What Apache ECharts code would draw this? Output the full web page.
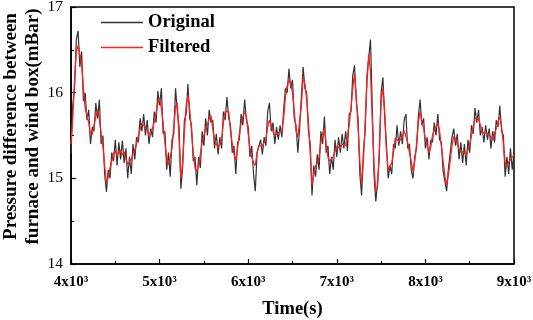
<!DOCTYPE html>
<html>
<head>
<meta charset="utf-8">
<script src="https://cdn.jsdelivr.net/npm/echarts@6/dist/echarts.min.js"></script>
<style>html,body{margin:0;padding:0;background:#fff}#c{width:533px;height:320px}</style>
</head>
<body>
<div id="c"></div>
<script>
// Time axis: samples every 20 s from 4000 s to 9000 s
const startTime = 4000;
const sampleStep = 20;
const xTicks = [4000, 5000, 6000, 7000, 8000, 9000];
const xTickLabels = ['4x10³', '5x10³', '6x10³', '7x10³', '8x10³', '9x10³'];
const yTickLabels = ['14', '15', '16', '17'];
const seriesNames = ['Original', 'Filtered'];

const original = [
  15.30,15.85,16.05,16.62,16.72,16.30,16.48,15.90,16.00,15.68,
  15.80,15.40,15.60,15.55,15.88,15.70,15.92,15.40,15.50,15.05,
  14.84,15.10,15.00,15.30,15.20,15.45,15.15,15.42,15.22,15.44,
  15.18,15.35,15.00,15.25,15.05,15.40,15.22,15.48,15.42,15.70,
  15.55,15.75,15.50,15.68,15.40,15.58,15.48,15.78,15.65,16.02,
  15.85,16.05,15.52,15.55,15.10,15.30,15.02,15.45,15.52,16.05,
  15.78,15.60,14.88,15.12,15.68,15.75,16.10,15.70,15.62,15.20,
  15.25,14.92,15.25,15.12,15.55,15.38,15.70,15.50,15.80,15.65,
  15.68,15.35,15.52,15.28,15.48,15.35,15.78,15.68,15.95,15.70,
  15.62,15.30,15.38,15.05,15.42,15.45,15.75,15.62,15.92,15.68,
  15.60,15.25,15.38,15.05,14.85,15.30,15.30,15.45,15.28,15.48,
  15.38,15.78,15.88,15.55,15.65,15.40,15.60,15.45,15.62,15.48,
  15.80,16.05,16.00,16.28,16.05,16.15,15.70,15.62,15.30,15.58,
  15.95,16.30,16.05,16.00,15.55,15.40,14.80,15.15,15.02,15.28,
  15.10,15.55,15.40,15.72,15.30,15.38,15.05,15.25,15.10,15.45,
  15.25,15.48,15.30,15.52,15.35,15.55,15.32,15.75,15.78,16.20,
  16.32,15.90,15.70,15.05,14.80,15.30,15.55,16.20,16.40,16.62,
  15.85,15.05,14.73,14.95,15.25,16.00,16.18,15.72,15.40,15.00,
  15.15,15.05,15.40,15.35,15.62,15.38,15.55,15.40,15.68,15.75,
  15.35,15.40,15.10,15.00,15.25,15.35,15.72,15.92,15.62,15.70,
  15.35,15.48,15.22,15.45,15.42,15.65,15.50,15.75,15.45,15.42,
  15.08,15.10,14.85,15.12,15.10,15.48,15.58,15.38,15.52,15.22,
  15.42,15.18,15.40,15.15,15.45,15.30,15.62,15.52,15.82,15.65,
  15.80,15.50,15.60,15.42,15.62,15.45,15.58,15.35,15.55,15.42,
  15.68,15.60,15.85,15.55,15.50,15.02,15.25,15.05,15.35,15.10,
  15.30
];

const filtered = [
  15.40,15.70,16.15,16.48,16.55,16.45,16.34,16.05,15.82,15.80,
  15.65,15.49,15.52,15.62,15.72,15.80,15.70,15.52,15.38,15.15,
  14.94,15.02,15.12,15.20,15.29,15.32,15.26,15.30,15.33,15.27,
  15.31,15.23,15.16,15.14,15.22,15.29,15.33,15.40,15.50,15.57,
  15.64,15.66,15.60,15.57,15.50,15.48,15.58,15.66,15.76,15.88,
  15.93,15.82,15.64,15.42,15.22,15.16,15.16,15.35,15.60,15.84,
  15.88,15.45,15.00,15.18,15.55,15.85,15.97,15.80,15.55,15.30,
  15.12,15.08,15.16,15.28,15.42,15.50,15.58,15.62,15.70,15.73,
  15.58,15.45,15.40,15.36,15.40,15.45,15.66,15.78,15.80,15.78,
  15.56,15.40,15.28,15.21,15.35,15.52,15.64,15.72,15.78,15.72,
  15.52,15.35,15.25,15.18,15.15,15.30,15.38,15.36,15.38,15.40,
  15.46,15.60,15.68,15.62,15.55,15.50,15.49,15.53,15.52,15.55,
  15.70,15.95,16.08,16.15,16.10,16.00,15.78,15.55,15.48,15.47,
  15.85,16.19,16.10,15.92,15.65,15.30,14.92,15.05,15.14,15.18,
  15.25,15.42,15.52,15.58,15.40,15.25,15.20,15.18,15.25,15.32,
  15.37,15.38,15.36,15.40,15.40,15.38,15.40,15.62,15.82,16.05,
  16.22,15.95,15.60,15.20,14.93,15.20,15.65,16.10,16.45,16.25,
  15.70,15.15,14.85,14.90,15.35,15.90,16.05,15.80,15.32,15.10,
  15.08,15.18,15.30,15.47,15.47,15.43,15.45,15.48,15.56,15.58,
  15.42,15.30,15.20,15.08,15.20,15.40,15.65,15.78,15.66,15.58,
  15.45,15.38,15.30,15.36,15.50,15.56,15.60,15.64,15.55,15.38,
  15.20,15.02,14.92,15.05,15.20,15.38,15.49,15.46,15.40,15.34,
  15.31,15.33,15.30,15.27,15.33,15.40,15.50,15.60,15.70,15.72,
  15.70,15.62,15.53,15.52,15.53,15.52,15.52,15.48,15.45,15.52,
  15.58,15.66,15.72,15.60,15.40,15.18,15.14,15.19,15.22,15.25,
  15.27
];

const sampleTimes = original.map((_, i) => startTime + sampleStep * i);
const pair = (vals) => vals.map((v, i) => [sampleTimes[i], v]);

const serif = '"Liberation Serif", "Times New Roman", serif';
const chart = echarts.init(document.getElementById('c'), null, {renderer: 'canvas'});
chart.setOption({
  animation: false,
  backgroundColor: '#fff',
  grid: {left: 71, right: 19, top: 7, bottom: 56, containLabel: false, outerBoundsMode: 'none',
         show: true, borderColor: '#000', borderWidth: 1.5},
  legend: {
    orient: 'vertical', left: 101, top: 13, padding: 0, itemWidth: 42, itemHeight: 1.6, itemGap: 6,
    icon: 'rect',
    data: seriesNames,
    textStyle: {fontFamily: serif, fontWeight: 'bold', fontSize: 18.5, lineHeight: 18, color: '#000', padding: [0, 0, 0, 0]}
  },
  xAxis: {
    type: 'value', min: xTicks[0], max: xTicks[xTicks.length - 1], interval: 1000,
    name: 'Time(s)', nameLocation: 'middle', nameGap: 36, nameMoveOverlap: false,
    nameTextStyle: {fontFamily: serif, fontWeight: 'bold', fontSize: 18.5, color: '#000'},
    axisLine: {lineStyle: {color: '#000', width: 1.5}},
    axisTick: {inside: true, length: 5, lineStyle: {color: '#000', width: 1.2}},
    minorTick: {show: true, splitNumber: 2, length: 3, lineStyle: {color: '#000', width: 1}},
    splitLine: {show: false},
    axisLabel: {
      margin: 11, fontFamily: serif, fontWeight: 'bold', fontSize: 15, color: '#000',
      formatter: (v) => xTickLabels[xTicks.indexOf(v)] || ''
    }
  },
  yAxis: {
    type: 'value', min: 14, max: 17, interval: 1,
    name: 'Pressure difference between\nfurnace and wind box(mBar)',
    nameLocation: 'middle', nameGap: 27, nameRotate: 90, nameMoveOverlap: false,
    nameTextStyle: {fontFamily: serif, fontWeight: 'bold', fontSize: 19, color: '#000', lineHeight: 22, padding: [0, 0, 0, 18]},
    axisLine: {show: true, lineStyle: {color: '#000', width: 1.5}},
    axisTick: {show: true, inside: true, length: 5, lineStyle: {color: '#000', width: 1.2}},
    minorTick: {show: true, splitNumber: 2, length: 3, lineStyle: {color: '#000', width: 1}},
    splitLine: {show: false},
    axisLabel: {
      margin: 8, fontFamily: serif, fontSize: 15.5, color: '#000',
      formatter: (v) => yTickLabels[v - 14]
    }
  },
  series: [
    {name: seriesNames[0], type: 'line', data: pair(original), symbol: 'none',
     lineStyle: {color: '#333', width: 1.2}, itemStyle: {color: '#333'}},
    {name: seriesNames[1], type: 'line', data: pair(filtered), symbol: 'none',
     lineStyle: {color: '#ff2020', width: 1.3}, itemStyle: {color: '#ff2020'}}
  ]
});
</script>
</body>
</html>
